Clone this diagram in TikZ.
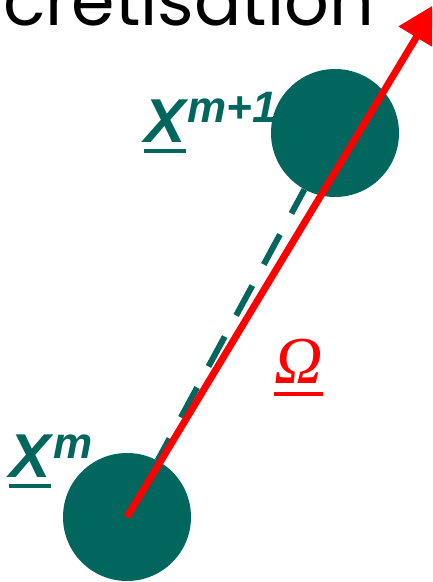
\documentclass[tikz,border=0pt]{standalone}
\usepackage{fontspec}
\usetikzlibrary{arrows.meta}
\newfontfamily\titlefont{Poppins}
\newfontfamily\lblfont{Liberation Sans}
\newfontfamily\omfont{Liberation Serif}
\definecolor{ballgreen}{RGB}{0,102,94}
\definecolor{arrowred}{RGB}{255,0,0}
% underlined symbol with a thick bar
\newcommand{\ulsym}[2]{\vtop{\hbox{#1}\kern#2\hrule height 4pt}}

\begin{document}
\begin{tikzpicture}[
    x=1pt, y=-1pt,
    ball/.style={circle, fill=ballgreen, minimum size=128pt, inner sep=0pt},
    lbl/.style={anchor=base west, inner sep=0pt, text=ballgreen, font=\lblfont\bfseries\itshape\fontsize{62}{62}\selectfont},
    dashline/.style={draw=ballgreen, line width=6pt, dash pattern=on 34pt off 24pt, dash phase=9pt},
    vec/.style={draw=arrowred, line width=7pt, -{Triangle[length=40pt,width=40pt]}}
  ]
    \clip (0,0) rectangle (432,582);

    \node[anchor=base west, inner sep=0pt, font=\titlefont\fontsize{70}{70}\selectfont] (title) at (3,25) {crétisation};

    \node[ball] (xm) at (127,517) {};
    \node[ball] (xmp) at (335,133) {};
    \coordinate (tip) at (437,3);

    \node[lbl] (lblm) at (9,477) {\ulsym{X}{7pt}\kern3pt\raisebox{19pt}{\fontsize{44}{44}\selectfont m}};
    \node[lbl] (lblmp) at (144,142) {\ulsym{X}{7pt}\kern2pt\raisebox{20pt}{\fontsize{44}{44}\selectfont m+1}};
    \node[anchor=base west, inner sep=0pt, text=arrowred, font=\omfont\itshape\fontsize{67}{67}\selectfont] (omega) at (274,383) {\ulsym{Ω}{9pt}};

    \draw[dashline] (xm) -- (xmp);
    \draw[vec] (xm.center) -- (tip);
\end{tikzpicture}
\end{document}
